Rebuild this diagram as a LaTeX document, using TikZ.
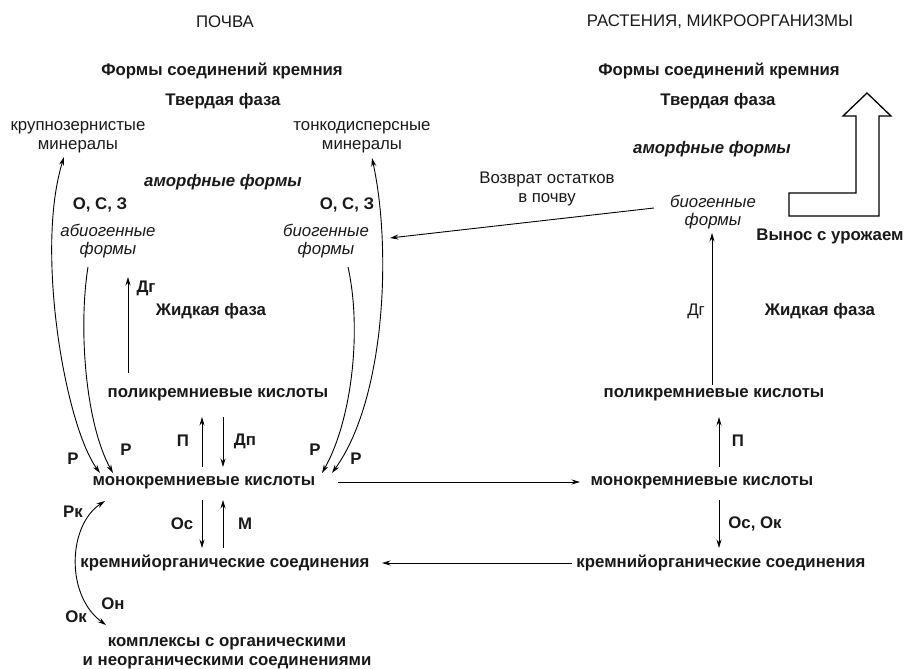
\documentclass[tikz,border=0pt]{standalone}
\usepackage{fontspec}
\setmainfont{Liberation Sans}
\usetikzlibrary{arrows.meta}
\begin{document}
\begin{tikzpicture}[x=1pt,y=-1pt,
  txt/.style={font=\fontsize{16.8}{18.8}\selectfont, inner sep=0pt, align=center, text=black!90},
  bt/.style={txt, font=\fontsize{16.8}{18.8}\selectfont\bfseries},
  bit/.style={txt, font=\fontsize{16.8}{18.8}\selectfont\bfseries\itshape},
  it/.style={txt, font=\fontsize{16.8}{18.8}\selectfont\itshape},
  arr/.style={-{Stealth[length=8.5pt,width=5pt]}, line width=0.9pt},
  darr/.style={{Stealth[length=8.5pt,width=5pt]}-{Stealth[length=8.5pt,width=5pt]}, line width=0.9pt},
  bigarrow/.style={draw, line width=1.3pt, line join=miter, fill=white},
]
\useasboundingbox (0,0) rectangle (914,669);

% headers
\node[txt] (hsoil) at (225,22) {ПОЧВА};
\node[txt] (hplant) at (720,22) {РАСТЕНИЯ, МИКРООРГАНИЗМЫ};

% ---- left (soil) ----
\node[bt] (lforms) at (222,71) {Формы соединений кремния};
\node[bt] (lsolid) at (223,101) {Твердая фаза};
\node[txt] (coarse) at (78,137) {крупнозернистые\\минералы};
\node[txt] (fine) at (362,137) {тонкодисперсные\\минералы};
\node[bit] (lamorph) at (223,182) {аморфные формы};
\node[bt] (locz1) at (100,205) {О, С, З};
\node[bt] (locz2) at (347,205) {О, С, З};
\node[it] (abio) at (108,241) {абиогенные\\формы};
\node[it] (lbio) at (326,241) {биогенные\\формы};
\node[bt] (ldg) at (146,288) {Дг};
\node[bt] (lliq) at (211,311) {Жидкая фаза};
\node[bt] (lpoly) at (218,395) {поликремниевые кислоты};
\node[bt] (lP) at (183,441) {П};
\node[bt] (lDp) at (245,441) {Дп};
\node[bt] (r1) at (73,459) {Р};
\node[bt] (r2) at (126,450) {Р};
\node[bt] (r3) at (315,450) {Р};
\node[bt] (r4) at (356,459) {Р};
\node[bt] (lmono) at (204,483) {монокремниевые кислоты};
\node[bt] (lOs) at (182,524) {Ос};
\node[bt] (lM) at (245,524) {М};
\node[bt] (lorg) at (225,563) {кремнийорганические соединения};
\node[bt] (rk) at (73,512) {Рк};
\node[bt] (on) at (113,604) {Он};
\node[bt] (ok) at (76,617) {Ок};
\node[bt] (compl) at (227,653) {комплексы с органическими\\и неорганическими соединениями};

% ---- right (plants) ----
\node[bt] (rforms) at (719,71) {Формы соединений кремния};
\node[bt] (rsolid) at (718,101) {Твердая фаза};
\node[bit] (ramorph) at (712,149) {аморфные формы};
\node[txt] (return) at (547,189) {Возврат остатков\\в почву};
\node[it] (rbio) at (713,212) {биогенные\\формы};
\node[bt] (harvest) at (830,236) {Вынос с урожаем};
\node[txt] (rdg) at (696,311) {Дг};
\node[bt] (rliq) at (820,311) {Жидкая фаза};
\node[bt] (rpoly) at (714,395) {поликремниевые кислоты};
\node[bt] (rP) at (738,441) {П};
\node[bt] (rmono) at (702,483) {монокремниевые кислоты};
\node[bt] (rOsOk) at (755,524) {Ос, Ок};
\node[bt] (rorg) at (721,563) {кремнийорганические соединения};

% ---- connector end points ----
\coordinate (oL1) at (100,473);
\coordinate (oL2) at (64,157);
\coordinate (iL1) at (88,267);
\coordinate (iL2) at (113,473);
\coordinate (iR1) at (348,267);
\coordinate (iR2) at (322,473);
\coordinate (oR1) at (372,158);
\coordinate (oR2) at (332,473);
\coordinate (dgL1) at (128,373);
\coordinate (dgL2) at (128,277);
\coordinate (pL1) at (202,467);
\coordinate (pL2) at (202,417);
\coordinate (dpL1) at (223,417);
\coordinate (dpL2) at (223,467);
\coordinate (osL1) at (202,500);
\coordinate (osL2) at (202,548);
\coordinate (mL1) at (223,548);
\coordinate (mL2) at (223,500);
\coordinate (rkA) at (105,501);
\coordinate (rkB) at (106,625);
\coordinate (monoA) at (338,482);
\coordinate (monoB) at (580,482);
\coordinate (orgA) at (572,563);
\coordinate (orgB) at (382,563);
\coordinate (retA) at (654,208);
\coordinate (retB) at (390,238);
\coordinate (dgR1) at (712,385);
\coordinate (dgR2) at (712,233);
\coordinate (pR1) at (719,467);
\coordinate (pR2) at (719,417);
\coordinate (osR1) at (719,500);
\coordinate (osR2) at (719,548);

% ---- connectors ----
\draw[darr] (oL1) .. controls (65,425) and (35,250) .. (oL2);
\draw[arr] (iL1) .. controls (78,330) and (86,425) .. (iL2);
\draw[arr] (iR1) .. controls (362,330) and (352,420) .. (iR2);
\draw[darr] (oR1) .. controls (392,250) and (385,400) .. (oR2);
\draw[arr] (dgL1) -- (dgL2);
\draw[arr] (pL1) -- (pL2);
\draw[arr] (dpL1) -- (dpL2);
\draw[arr] (osL1) -- (osL2);
\draw[arr] (mL1) -- (mL2);
\draw[darr] (rkA) .. controls (68,525) and (65,595) .. (rkB);
\draw[arr] (monoA) -- (monoB);
\draw[arr] (orgA) -- (orgB);
\draw[arr] (retA) -- (retB);
\draw[arr] (dgR1) -- (dgR2);
\draw[arr] (pR1) -- (pR2);
\draw[arr] (osR1) -- (osR2);

% big hollow arrow (removal with harvest)
\draw[bigarrow] (867,93) -- (891,116) -- (879,116) -- (879,216) -- (789,216)
  -- (789,193) -- (856,193) -- (856,116) -- (843,116) -- cycle;
\end{tikzpicture}
\end{document}
